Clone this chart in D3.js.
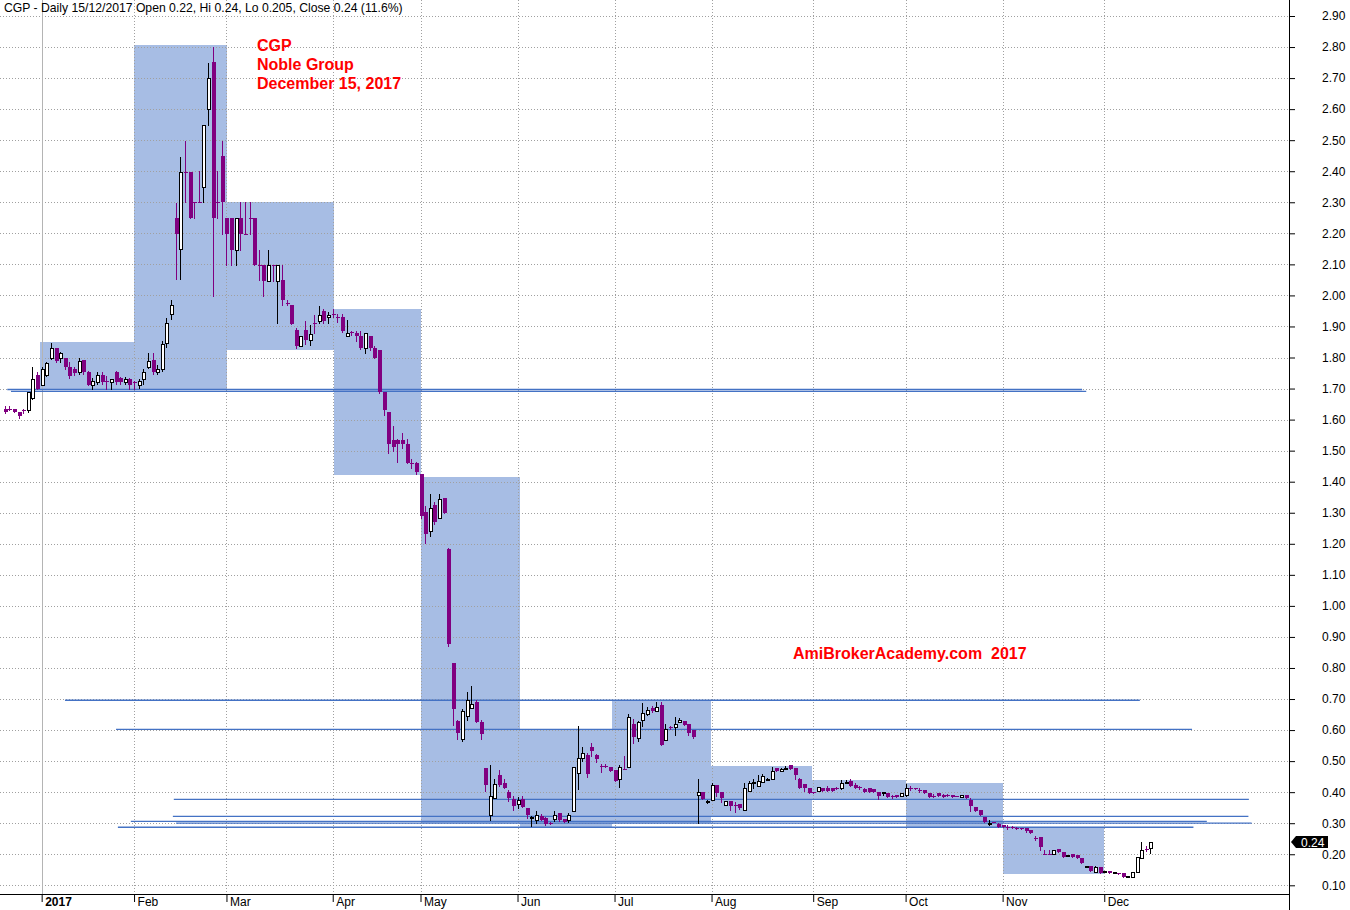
<!DOCTYPE html>
<html><head><meta charset="utf-8">
<script src="https://cdn.jsdelivr.net/npm/d3@7"></script>
<style>body{margin:0;background:#fff}svg{display:block;font-family:"Liberation Sans",Arial,sans-serif}</style>
</head><body><svg id="c" width="1350" height="910"></svg>
<script>
// ---- data (index 0 = first visible bar, Dec 2016; index 8 = first bar of 2017) ----
const opens=[1.635,1.635,1.635,1.625,1.63,1.63,1.671,1.743,
1.712,1.743,1.80,1.832,1.80,1.80,1.771,1.762,1.752,1.791,1.752,1.712,1.722,1.743,1.725,1.722,1.754,1.735,1.722,1.732,
1.72,1.712,1.732,1.771,1.791,1.752,1.762,1.848,1.939,2.248,2.148,2.399,2.399,2.30,2.30,2.348,2.60,2.751,2.30,2.449,
2.248,2.248,2.146,2.248,2.197,2.248,2.248,2.097,2.097,2.047,2.097,2.047,2.05,1.977,1.969,1.888,1.837,1.888,1.856,1.910,1.918,1.949,1.929,
1.940,1.932,1.932,1.869,1.882,1.879,1.870,1.830,1.870,1.832,1.824,1.689,1.623,1.533,1.533,1.533,1.523,1.461,1.461,
1.424,1.301,1.242,1.325,1.282,1.347,1.183,0.815,0.629,0.570,0.645,0.670,0.690,0.627,0.479,0.326,0.382,0.454,0.428,0.401,0.378,
0.363,0.377,0.348,0.318,0.310,0.324,0.318,0.30,0.313,0.334,0.313,0.310,0.338,0.463,0.509,0.519,0.544,0.519,0.485,0.485,0.48,
0.471,0.442,0.474,0.48,0.619,0.573,0.633,0.652,0.671,0.662,0.681,0.569,0.609,0.609,0.625,0.628,0.619,0.60,0.391,0.399,0.368,
0.374,0.423,0.399,0.36,0.371,0.36,0.361,0.344,0.404,0.433,0.42,0.433,0.442,0.442,0.478,0.469,0.478,0.487,0.478,0.442,0.426,0.415,
0.40,0.404,0.412,0.412,0.412,0.412,0.415,0.433,0.435,0.423,0.417,0.409,0.412,0.409,0.401,0.399,0.396,0.388,0.39,0.388,
0.391,0.415,0.412,0.408,0.408,0.397,0.388,0.397,0.391,0.391,0.391,0.388,0.386,0.391,0.375,0.353,0.343,0.32,0.30,0.303,0.298,
0.295,0.289,0.287,0.284,0.286,0.286,0.278,0.252,0.254,0.20,0.20,0.20,0.216,0.206,0.198,0.20,0.198,0.187,0.162,0.162,0.144,0.158,
0.144,0.146,0.142,0.139,0.139,0.13,0.128,0.144,0.189,0.217,0.22];
const highs=[1.645,1.645,1.635,1.625,1.635,1.69,1.77,1.752,
1.77,1.786,1.848,1.832,1.818,1.80,1.784,1.77,1.797,1.791,1.755,1.735,1.752,1.752,1.74,1.732,1.755,1.736,1.738,1.733,
1.725,1.73,1.762,1.813,1.813,1.775,1.854,1.926,1.985,2.299,2.447,2.498,2.399,2.30,2.40,2.549,2.748,2.80,2.40,2.498,
2.248,2.248,2.248,2.30,2.30,2.30,2.248,2.146,2.097,2.146,2.097,2.097,2.097,1.985,1.969,1.894,1.869,1.917,1.906,1.936,1.965,1.956,1.947,
1.956,1.94,1.94,1.92,1.887,1.887,1.884,1.879,1.870,1.836,1.824,1.689,1.623,1.580,1.539,1.558,1.539,1.474,1.463,
1.424,1.322,1.36,1.333,1.36,1.347,1.186,0.815,0.632,0.667,0.723,0.742,0.697,0.634,0.479,0.487,0.444,0.470,0.441,0.406,0.387,
0.383,0.388,0.350,0.324,0.34,0.331,0.32,0.304,0.34,0.334,0.313,0.334,0.48,0.612,0.544,0.525,0.557,0.523,0.49,0.49,0.48,
0.471,0.487,0.517,0.652,0.635,0.63,0.687,0.675,0.676,0.689,0.689,0.621,0.612,0.641,0.639,0.628,0.619,0.60,0.442,0.40,0.375,
0.431,0.423,0.399,0.371,0.371,0.369,0.361,0.43,0.435,0.442,0.455,0.458,0.445,0.482,0.478,0.478,0.485,0.487,0.478,0.446,0.426,0.415,
0.402,0.417,0.412,0.419,0.412,0.417,0.439,0.439,0.442,0.428,0.42,0.412,0.412,0.409,0.401,0.40,0.396,0.392,0.39,0.398,
0.427,0.42,0.414,0.413,0.408,0.397,0.394,0.397,0.393,0.393,0.391,0.388,0.391,0.391,0.381,0.353,0.343,0.32,0.311,0.303,0.30,
0.295,0.295,0.292,0.287,0.286,0.286,0.278,0.259,0.254,0.214,0.214,0.214,0.216,0.206,0.198,0.20,0.198,0.187,0.162,0.162,0.163,0.158,
0.146,0.146,0.142,0.139,0.139,0.13,0.142,0.192,0.241,0.225,0.24];
const lows=[1.62,1.63,1.625,1.605,1.62,1.625,1.666,1.70,
1.71,1.741,1.795,1.784,1.786,1.762,1.735,1.745,1.746,1.746,1.71,1.70,1.714,1.714,1.70,1.70,1.716,1.716,1.714,1.70,
1.70,1.703,1.714,1.765,1.746,1.746,1.757,1.834,1.923,2.052,2.052,2.30,2.248,2.248,2.30,2.30,2.549,1.998,2.248,2.198,
2.098,2.098,2.098,2.146,2.197,2.197,2.097,2.05,1.998,2.047,2.047,1.912,1.969,1.969,1.908,1.830,1.837,1.845,1.840,1.880,1.912,1.912,1.912,
1.929,1.914,1.883,1.869,1.873,1.852,1.829,1.814,1.824,1.798,1.687,1.614,1.491,1.499,1.463,1.510,1.461,1.445,1.424,
1.284,1.204,1.226,1.263,1.282,1.298,0.871,0.615,0.572,0.565,0.634,0.670,0.626,0.570,0.403,0.310,0.382,0.419,0.413,0.371,0.344,
0.35,0.353,0.318,0.291,0.302,0.310,0.295,0.297,0.308,0.308,0.304,0.304,0.338,0.41,0.501,0.45,0.517,0.496,0.466,0.48,0.467,
0.437,0.417,0.474,0.48,0.557,0.566,0.612,0.65,0.657,0.662,0.553,0.569,0.603,0.584,0.625,0.617,0.585,0.574,0.302,0.379,0.365,
0.374,0.388,0.369,0.36,0.344,0.337,0.347,0.344,0.404,0.415,0.42,0.433,0.44,0.442,0.468,0.469,0.473,0.474,0.442,0.414,0.403,0.398,
0.398,0.404,0.403,0.404,0.404,0.409,0.41,0.428,0.42,0.415,0.41,0.399,0.399,0.399,0.377,0.39,0.385,0.38,0.386,0.388,
0.388,0.408,0.41,0.402,0.397,0.386,0.386,0.388,0.386,0.389,0.386,0.388,0.386,0.381,0.338,0.338,0.325,0.303,0.295,0.303,0.289,
0.289,0.282,0.283,0.282,0.28,0.271,0.27,0.246,0.214,0.20,0.20,0.20,0.206,0.192,0.198,0.192,0.187,0.171,0.162,0.147,0.142,0.139,
0.144,0.141,0.142,0.135,0.128,0.13,0.128,0.144,0.189,0.209,0.205];
const closes=[1.625,1.635,1.625,1.61,1.63,1.69,1.732,1.70,
1.762,1.781,1.832,1.789,1.813,1.771,1.741,1.749,1.789,1.752,1.712,1.723,1.743,1.722,1.725,1.732,1.722,1.722,1.732,1.712,
1.72,1.723,1.752,1.789,1.752,1.762,1.843,1.910,1.968,2.197,2.399,2.399,2.248,2.30,2.30,2.549,2.70,2.248,2.30,2.30,
2.197,2.146,2.248,2.197,2.197,2.248,2.097,2.097,2.047,2.097,2.097,2.097,1.985,1.977,1.908,1.837,1.869,1.856,1.877,1.910,1.938,1.918,1.938,
1.940,1.932,1.887,1.879,1.882,1.869,1.830,1.879,1.830,1.798,1.689,1.631,1.523,1.512,1.523,1.523,1.461,1.461,1.431,
1.289,1.231,1.314,1.271,1.344,1.298,0.876,0.667,0.589,0.663,0.696,0.683,0.626,0.586,0.422,0.389,0.425,0.422,0.413,0.382,0.357,
0.374,0.353,0.327,0.319,0.327,0.310,0.299,0.30,0.327,0.310,0.304,0.327,0.48,0.509,0.525,0.458,0.533,0.506,0.485,0.485,0.467,
0.437,0.48,0.474,0.643,0.578,0.627,0.654,0.665,0.662,0.673,0.553,0.603,0.609,0.619,0.633,0.617,0.59,0.578,0.401,0.379,0.373,
0.423,0.396,0.38,0.371,0.356,0.36,0.349,0.415,0.431,0.434,0.435,0.452,0.443,0.468,0.468,0.476,0.479,0.474,0.455,0.414,0.414,0.398,
0.40,0.417,0.403,0.404,0.404,0.412,0.431,0.434,0.42,0.415,0.412,0.399,0.399,0.399,0.388,0.40,0.385,0.388,0.386,0.398,
0.415,0.415,0.412,0.408,0.397,0.386,0.388,0.388,0.386,0.391,0.386,0.388,0.391,0.381,0.357,0.34,0.325,0.305,0.301,0.303,0.289,
0.289,0.289,0.287,0.284,0.28,0.276,0.27,0.252,0.222,0.20,0.20,0.214,0.206,0.192,0.199,0.192,0.187,0.171,0.163,0.147,0.158,0.139,
0.145,0.141,0.143,0.135,0.128,0.131,0.142,0.192,0.214,0.217,0.24];

const monthStarts=[8,28,48,71,90,111,132,153,175,195,216,238];
const monthLabels=["2017","Feb","Mar","Apr","May","Jun","Jul","Aug","Sep","Oct","Nov","Dec"];
// monthly high/low boxes Jan..Nov (left/right edges in bar units)
const boxLeft=[7.6,27.9,48.1,71.3,90.0,111.6,131.5,152.9,174.8,195.1,216.0];
const boxRight=[27.9,48.1,71.3,90.0,111.6,131.5,152.9,174.8,195.1,216.0,238.0];
const boxHigh=[1.85,2.805,2.30,1.955,1.415,0.60,0.695,0.485,0.44,0.43,0.288];
const boxLow=[1.70,1.70,1.825,1.42,0.302,0.288,0.30,0.323,0.378,0.288,0.137];
// hand-drawn horizontal lines (bar index start/end, price)
const trendStart=[0.56,1.36,13.05,24.1,36.6,36.4,27.3,37.1,24.5];
const trendEnd=[233.2,234.1,245.7,257.0,269.3,269.2,260.2,269.9,257.3];
const trendValue=[1.697,1.691,0.696,0.602,0.377,0.322,0.306,0.300,0.287];
const yTicks=d3.range(1,30).map(k=>k/10);
const lastPrice=0.24;
const titleText="CGP - Daily 15/12/2017 Open 0.22, Hi 0.24, Lo 0.205, Close 0.24 (11.6%)";
const noteLines=["CGP","Noble Group","December 15, 2017"];
const siteText="AmiBrokerAcademy.com  2017";

// ---- drawing ----
const plotRight=1289, plotBottom=894;
const x=d3.scaleLinear().domain([0,248]).range([4.7,4.7+248*4.62]);
const y=d3.scaleLinear().domain([0.10,2.90]).range([885.3,16]);
const svg=d3.select("#c");
const purple="#800080", lineBlue="#4472c4";

// boxes
svg.append("g").selectAll("rect").data(boxHigh).join("rect")
  .attr("x",(d,i)=>Math.round(x(boxLeft[i])))
  .attr("width",(d,i)=>Math.round(x(boxRight[i]))-Math.round(x(boxLeft[i])))
  .attr("y",d=>Math.round(y(d)))
  .attr("height",(d,i)=>Math.round(y(boxLow[i]))-Math.round(y(d)))
  .attr("fill","#a7bde4");

// grid
const grid=svg.append("g").attr("shape-rendering","crispEdges");
grid.selectAll("line.h").data(yTicks).join("line").attr("class","h")
  .attr("x1",0).attr("x2",plotRight).attr("y1",d=>Math.round(y(d))+0.5).attr("y2",d=>Math.round(y(d))+0.5)
  .attr("stroke","#a0a0a0").attr("stroke-dasharray","1,2");
grid.selectAll("line.v").data(monthStarts).join("line").attr("class","v")
  .attr("x1",d=>Math.round(x(d))+0.5).attr("x2",d=>Math.round(x(d))+0.5).attr("y1",0).attr("y2",plotBottom)
  .attr("stroke",(d,i)=>i===0?"#b4b4b4":"#a0a0a0")
  .attr("stroke-width",(d,i)=>i===0?1.5:1)
  .attr("stroke-dasharray",(d,i)=>i===0?null:"1,2");

// trend lines
svg.append("g").selectAll("line").data(trendValue).join("line")
  .attr("x1",(d,i)=>x(trendStart[i])).attr("x2",(d,i)=>x(trendEnd[i]))
  .attr("y1",d=>y(d)).attr("y2",d=>y(d))
  .attr("stroke",lineBlue).attr("stroke-width",1.3);

// candles
const idx=d3.range(opens.length);
const cg=svg.append("g").attr("shape-rendering","crispEdges");
idx.forEach(i=>{
  const o=opens[i],h=highs[i],l=lows[i],c=closes[i];
  const up=c>o;
  const xs=Math.round(x(i));
  const col=up?"#000":purple;
  cg.append("line").attr("x1",xs+0.5).attr("x2",xs+0.5)
    .attr("y1",Math.round(y(h))).attr("y2",Math.round(y(l))+1).attr("stroke",col);
  if(up){
    const t=Math.round(y(c)), b=Math.round(y(o));
    cg.append("rect").attr("x",xs-0.5).attr("width",3)
      .attr("y",t+0.5).attr("height",Math.max(1,b-t)).attr("fill","#fff").attr("stroke","#000");
  } else {
    const t=Math.round(y(o)), b=Math.round(y(c));
    cg.append("rect").attr("x",xs-1).attr("width",4)
      .attr("y",t).attr("height",Math.max(1,b-t)).attr("fill",purple);
  }
});

// axes
const yAxis=d3.axisRight(y).tickValues(yTicks).tickFormat(d3.format(".2f"))
  .tickSizeInner(6).tickSizeOuter(0).tickPadding(27);
const ya=svg.append("g").attr("transform",`translate(${plotRight},0)`).call(yAxis);
ya.select(".domain").remove();
ya.attr("font-size",12).attr("font-family",null);
ya.selectAll("text").attr("fill","#000");
svg.append("line").attr("x1",plotRight+0.5).attr("x2",plotRight+0.5).attr("y1",0).attr("y2",910).attr("stroke","#000");
svg.append("line").attr("x1",0).attr("x2",plotRight).attr("y1",plotBottom+0.5).attr("y2",plotBottom+0.5).attr("stroke","#000");

const xAxis=d3.axisBottom(x).tickValues(monthStarts).tickFormat((d,i)=>monthLabels[i]).tickSizeInner(8).tickSizeOuter(0).tickPadding(2);
const xa=svg.append("g").attr("transform",`translate(0,${plotBottom})`).call(xAxis);
xa.select(".domain").remove();
xa.attr("font-size",12).attr("font-family",null);
xa.selectAll("text").attr("text-anchor","start").attr("x",3).attr("y",3).attr("fill","#000")
  .attr("font-weight",(d,i)=>i===0?"bold":null);

// price tag
const py=Math.round(y(lastPrice));
svg.append("path").attr("d",`M${plotRight+2},${py} L${plotRight+7},${py-6} L${plotRight+39},${py-6} L${plotRight+39},${py+6} L${plotRight+7},${py+6} Z`).attr("fill","#000");
svg.append("text").attr("x",plotRight+12).attr("y",py+4.5).attr("fill","#fff").attr("font-size",12).text(d3.format(".2f")(lastPrice));

// texts
svg.append("text").attr("x",4).attr("y",12).attr("font-size",12.2).attr("fill","#000").text(titleText);
svg.append("g").selectAll("text").data(noteLines).join("text")
  .attr("x",257).attr("y",(d,i)=>51+i*19).attr("font-size",16).attr("font-weight","bold").attr("fill","#ff0000").text(d=>d);
svg.append("text").attr("x",793).attr("y",658.5).attr("font-size",16).attr("font-weight","bold").attr("fill","#ff0000")
  .style("white-space","pre").text(siteText);
</script></body></html>
